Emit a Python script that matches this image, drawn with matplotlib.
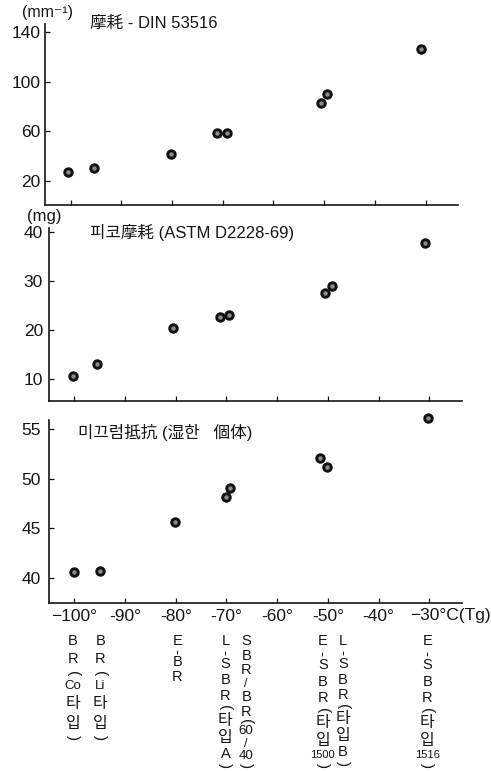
import matplotlib
matplotlib.use("Agg")
import matplotlib.pyplot as plt

plt.rcParams['font.family'] = ['Liberation Sans', 'Noto Sans CJK KR', 'DejaVu Sans']

# ---- data ----
tg_top = [-100.6, -95.3, -80.3, -71.2, -69.2, -50.7, -49.4, -30.8]
din_abrasion = [27.3, 30.5, 41.3, 58.8, 58.8, 83.1, 90.1, 126.7]

tg_mid = [-100.3, -95.5, -80.5, -71.3, -69.4, -50.6, -49.1, -30.9]
pico_abrasion = [10.7, 13.2, 20.4, 22.8, 23.1, 27.7, 29.1, 37.8]

tg_bot = [-100.0, -95.0, -80.2, -70.1, -69.25, -51.5, -50.2, -30.3]
skid_resistance = [40.6, 40.7, 45.7, 48.2, 49.1, 52.1, 51.2, 56.1]

x_ticks = [-100, -90, -80, -70, -60, -50, -40, -30]
x_ticklabels = ['−100°', '-90°', '-80°', '-70°', '-60°', '-50°', '-40°', '']
top_yticks = [20, 60, 100, 140]
mid_yticks = [10, 20, 30, 40]
bot_yticks = [40, 45, 50, 55]

titles = ['摩耗 - DIN 53516', '피코摩耗 (ASTM D2228-69)', '미끄럼抵抗 (湿한   個体)']
units = ['(mm⁻¹)', '(mg)']

rubber_tokens = [
    ["B", "R", "(", "Co", "타", "입", ")"],
    ["B", "R", "(", "Li", "타", "입", ")"],
    ["E", "-", "B", "R"],
    ["L", "-", "S", "B", "R", "(", "타", "입", "A", ")"],
    ["S", "B", "R", "/", "B", "R", "(", "60", "/", "40", ")"],
    ["E", "-", "S", "B", "R", "(", "타", "입", "1500", ")"],
    ["L", "-", "S", "B", "R", "(", "타", "입", "B", ")"],
    ["E", "-", "S", "B", "R", "(", "타", "입", "1516", ")"],
]
label_x = [-100.3, -94.9, -79.7, -70.2, -66.1, -51.0, -47.0, -30.4]
label_bottom_px = [740, 740, 684, 768, 768, 768, 766, 768]

# ---- layout ----
W, H = 491, 771
fig = plt.figure(figsize=(W / 100, H / 100), dpi=100)
fig.patch.set_facecolor('white')

XLIM = (-105, -23.5)
AXW = 413.2

def make_ax(left_px, top_px, bottom_px):
    return fig.add_axes([left_px / W, 1 - bottom_px / H, AXW / W, (bottom_px - top_px) / H])

ax1 = make_ax(45.3, 23.6, 205.4)
ax2 = make_ax(49.0, 227.5, 401.0)
ax3 = make_ax(49.0, 420.2, 603.0)

ink = '#151515'
panels = [
    (ax1, tg_top, din_abrasion, (0, 147), top_yticks, 3.6),
    (ax2, tg_mid, pico_abrasion, (5.6, 41), mid_yticks, 4.3),
    (ax3, tg_bot, skid_resistance, (37.5, 55.9), bot_yticks, 5.8),
]
for ax, xs, ys, ylim, yt, ypad in panels:
    ax.set_xlim(*XLIM)
    ax.set_ylim(*ylim)
    for s in ['top', 'right']:
        ax.spines[s].set_visible(False)
    for s in ['left', 'bottom']:
        ax.spines[s].set_color(ink)
        ax.spines[s].set_linewidth(1.2)
    ax.set_xticks(x_ticks)
    ax.set_yticks(yt)
    ax.tick_params(axis='both', direction='in', length=3.8, width=0.9, color=ink,
                   labelsize=12.5, labelcolor=ink)
    ax.tick_params(axis='y', pad=ypad)
    ax.plot(xs, ys, linestyle='none', marker='o', markersize=5.4, markeredgewidth=2.1,
            markerfacecolor='#8a8a8a', markeredgecolor='#101010', clip_on=False, zorder=3)
    ax.set_facecolor('none')

ax1.set_xticklabels([])
ax2.set_xticklabels([])
ax3.set_xticklabels(x_ticklabels)
ax3.tick_params(axis='x', pad=4)
ax3.text(-33.7, -0.03, '−30°C(Tg)', transform=ax3.get_xaxis_transform(), ha='left', va='top',
         fontsize=12.5, color=ink)

# panel titles
fig.text(90 / W, 1 - 23 / H, titles[0], fontsize=12, color=ink, va='center', ha='left')
fig.text(90 / W, 1 - 232 / H, titles[1], fontsize=12, color=ink, va='center', ha='left')
fig.text(78 / W, 1 - 432 / H, titles[2], fontsize=12, color=ink, va='center', ha='left')

# unit labels
fig.text(22 / W, 1 - 13 / H, units[0], fontsize=11.5, color=ink, va='center', ha='left')
fig.text(27 / W, 1 - 217 / H, units[1], fontsize=12, color=ink, va='center', ha='left')

# vertical rubber labels: one text per character, stacked top to bottom
renderer = fig.canvas.get_renderer()

def style_of(tok):
    if tok in '()':
        return 11, -90
    if tok == '-':
        return 11, 90
    if '\uac00' <= tok <= '\ud7a3':
        return 11.5, 0
    if len(tok) == 4:
        return 8, 0
    if len(tok) == 2:
        return 9.5, 0
    if tok == '/':
        return 9, 0
    return 10.5, 0

TOP = 634.0
for toks, lx, bottom in zip(rubber_tokens, label_x, label_bottom_px):
    xpx = ax3.transData.transform((lx, 0))[0]
    texts, heights = [], []
    for tok in toks:
        fs, rot = style_of(tok)
        t = fig.text(xpx / W, 1 - TOP / H, tok, fontsize=fs, rotation=rot, color=ink,
                     ha='center', va='top')
        texts.append(t)
        heights.append(t.get_window_extent(renderer).height)
    gap = (bottom - TOP - sum(heights)) / max(len(toks) - 1, 1)
    gap = min(max(gap, 0.3), 6.0)
    y = TOP
    for t, h in zip(texts, heights):
        t.set_y(1 - y / H)
        y += h + gap

fig.savefig('out.png', dpi=100, facecolor='white')
